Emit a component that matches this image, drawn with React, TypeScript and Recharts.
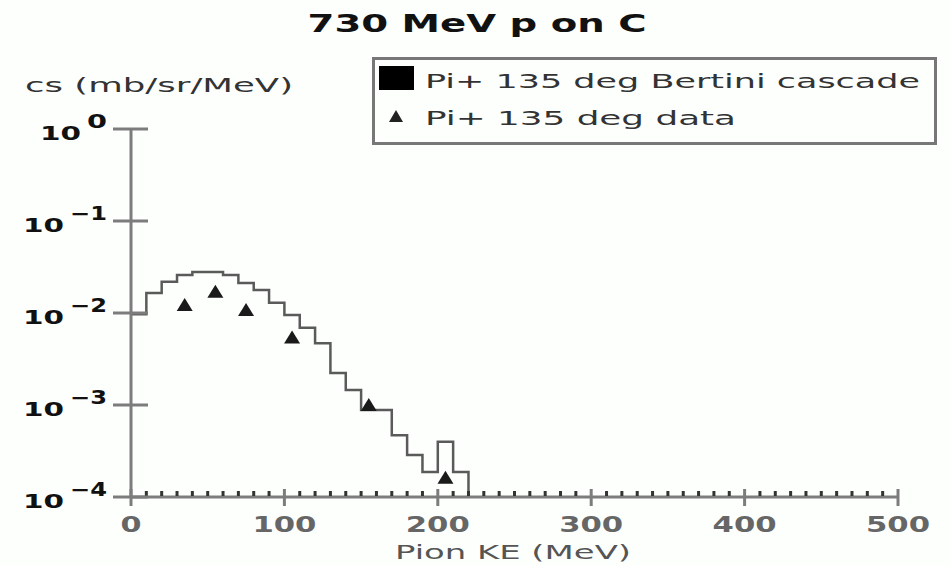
import React from "react";
import {
  ComposedChart,
  Line,
  Scatter,
  XAxis,
  YAxis,
  Legend,
} from "recharts";

// Bertini cascade histogram: bin left edges (MeV) and cs (mb/sr/MeV)
const cascadeKE = [
  0, 10, 20, 30, 40, 50, 60, 70, 80, 90, 100, 110, 120, 130, 140, 150, 160,
  170, 180, 190, 200, 210, 220,
];
const cascadeCs = [
  0.0097, 0.0165, 0.0219, 0.0259, 0.0279, 0.0279, 0.0259, 0.0212, 0.0178,
  0.0129, 0.0095, 0.0069, 0.0047, 0.00223, 0.00146, 0.00088, 0.00088, 0.00047,
  0.000286, 0.000187, 0.000398, 0.000187, 0.0001,
];

// measured points
const dataKE = [35, 55, 75, 105, 155, 205];
const dataCs = [0.0122, 0.017, 0.0108, 0.0054, 0.001, 0.000162];

const yTicks = [0.0001, 0.001, 0.01, 0.1, 1];

const W = 949;
const H = 566;
const Y_AXIS_W = 131;
const X_AXIS_H = 69;
const AXIS_Y = H - X_AXIS_H;
const AXIS_X = Y_AXIS_W;
const FONT = "'DejaVu Sans', sans-serif";
const AXIS_COLOR = "#7c7c7c";

const hist = cascadeKE.map((x, i) => ({ x, v: cascadeCs[i] }));
const points = dataKE.map((x, i) => ({ x, v: dataCs[i] }));

// major ticks every 100, minor marks every 10
const xTicks: number[] = [];
for (let t = 0; t <= 500; t += 10) xTicks.push(t);

// the original bitmap is stretched sideways, so text gets a fixed length
function WideText({ x, y, len, size, bold = false, fill, children }: any) {
  return (
    <text
      x={x}
      y={y}
      textAnchor="start"
      fontFamily={FONT}
      fontSize={size}
      fontWeight={bold ? "bold" : "normal"}
      fill={fill}
      textLength={len}
      lengthAdjust="spacingAndGlyphs"
    >
      {children}
    </text>
  );
}

function XTick(props: any) {
  const v = props.payload.value;
  const cx = props.payload.coordinate;
  if (v % 100 !== 0) {
    return <rect x={cx - 1.5} y={AXIS_Y - 6} width={3} height={5} fill="#333" />;
  }
  const label = String(v);
  const len = label.length === 1 ? 21 : 64;
  return (
    <g>
      <line
        x1={cx}
        x2={cx}
        y1={AXIS_Y - 8}
        y2={AXIS_Y + 9}
        stroke={AXIS_COLOR}
        strokeWidth={3}
      />
      <WideText x={cx - len / 2} y={AXIS_Y + 35} len={len} size={21} bold fill="#666">
        {label}
      </WideText>
    </g>
  );
}

function YTick(props: any) {
  const v = props.payload.value;
  const cy = props.payload.coordinate;
  const exp = Math.round(Math.log10(v));
  const expText = exp === 0 ? "0" : "\u2212" + Math.abs(exp);
  const expW = exp === 0 ? 20 : 37;
  const expRight = 107;
  const baseRight = expRight - expW - 6;
  return (
    <g>
      <line
        x1={AXIS_X - 18}
        x2={AXIS_X + 17}
        y1={cy}
        y2={cy}
        stroke={AXIS_COLOR}
        strokeWidth={3}
      />
      <WideText x={baseRight - 41} y={cy + 11} len={41} size={20} bold fill="#111">
        10
      </WideText>
      <WideText x={expRight - expW} y={cy - 1} len={expW} size={19} bold fill="#111">
        {expText}
      </WideText>
    </g>
  );
}

function Triangle(props: any) {
  const { cx, cy } = props;
  if (cx == null || cy == null) return null;
  return (
    <polygon
      points={`${cx - 8},${cy + 6} ${cx + 8},${cy + 6} ${cx},${cy - 7}`}
      fill="#1a1a1a"
    />
  );
}

function LegendBox() {
  return (
    <svg width={566} height={89} style={{ display: "block" }}>
      <rect
        x={1.5}
        y={1.5}
        width={562}
        height={85}
        fill="#fdfffd"
        stroke="#777"
        strokeWidth={3}
      />
      <rect x={7} y={9} width={35} height={24} fill="#000" />
      <text
        x={53}
        y={31}
        fontFamily={FONT}
        fontSize={20}
        fill="#333"
        textLength={495}
        lengthAdjust="spacingAndGlyphs"
      >
        Pi+ 135 deg Bertini cascade
      </text>
      <polygon points="17,65 31,65 24,53" fill="#222" />
      <text
        x={53}
        y={68}
        fontFamily={FONT}
        fontSize={20}
        fill="#333"
        textLength={311}
        lengthAdjust="spacingAndGlyphs"
      >
        Pi+ 135 deg data
      </text>
    </svg>
  );
}

export default function App() {
  return (
    <div
      style={{
        position: "absolute",
        left: 0,
        top: 0,
        width: W,
        height: H,
        background: "#fdfffd",
      }}
    >
      <ComposedChart
        width={W}
        height={H}
        margin={{ top: 129, right: 51, bottom: 0, left: 0 }}
      >
        <XAxis
          dataKey="x"
          type="number"
          domain={[0, 500]}
          ticks={xTicks}
          interval={0}
          height={X_AXIS_H}
          tickSize={0}
          tickMargin={0}
          tickLine={false}
          axisLine={{ stroke: AXIS_COLOR, strokeWidth: 3 }}
          tick={<XTick />}
        />
        <YAxis
          type="number"
          scale="log"
          domain={[0.0001, 1]}
          allowDataOverflow
          ticks={yTicks}
          interval={0}
          width={Y_AXIS_W}
          tickSize={0}
          tickMargin={0}
          tickLine={false}
          axisLine={{ stroke: AXIS_COLOR, strokeWidth: 3 }}
          tick={<YTick />}
        />
        <Line
          data={hist}
          dataKey="v"
          type="stepAfter"
          stroke="#5a5a5a"
          strokeWidth={2.5}
          dot={false}
          isAnimationActive={false}
          name="Pi+ 135 deg Bertini cascade"
        />
        <Scatter
          data={points}
          dataKey="v"
          shape={<Triangle />}
          isAnimationActive={false}
          name="Pi+ 135 deg data"
        />
        <Legend
          layout="vertical"
          align="center"
          verticalAlign="middle"
          content={() => <LegendBox />}
          wrapperStyle={{ left: 372, top: 57, width: 566, height: 89 }}
        />
      </ComposedChart>
      <svg
        width={W}
        height={H}
        style={{ position: "absolute", left: 0, top: 0, pointerEvents: "none" }}
      >
        <text
          x={477}
          y={32}
          textAnchor="middle"
          fontFamily={FONT}
          fontWeight="bold"
          fontSize={25}
          fill="#111"
          textLength={339}
          lengthAdjust="spacingAndGlyphs"
        >
          730 MeV p on C
        </text>
        <text
          x={25}
          y={92}
          fontFamily={FONT}
          fontSize={20}
          fill="#333"
          textLength={268}
          lengthAdjust="spacingAndGlyphs"
        >
          cs (mb/sr/MeV)
        </text>
        <text
          x={513}
          y={559}
          textAnchor="middle"
          fontFamily={FONT}
          fontSize={20}
          fill="#555"
          textLength={236}
          lengthAdjust="spacingAndGlyphs"
        >
          Pion KE (MeV)
        </text>
      </svg>
    </div>
  );
}
